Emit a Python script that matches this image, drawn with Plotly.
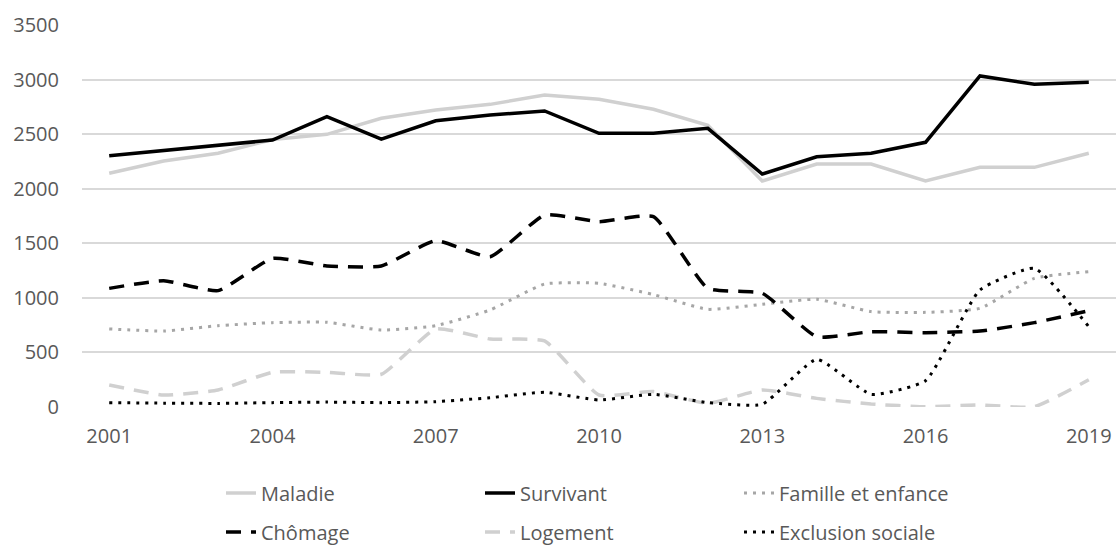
import plotly.graph_objects as go

years = list(range(2001, 2020))
maladie = [2141, 2254, 2325, 2450, 2498, 2645, 2721, 2773, 2859, 2819, 2728, 2581, 2071, 2226, 2226, 2071, 2196, 2196, 2325]
survivant = [2302, 2349, 2391, 2446, 2660, 2455, 2623, 2675, 2712, 2508, 2508, 2553, 2135, 2293, 2325, 2425, 3033, 2957, 2975]
famille = [715, 696, 745, 773, 776, 705, 745, 889, 1127, 1133, 1030, 895, 941, 987, 874, 867, 904, 1179, 1240]
chomage = [1087, 1157, 1066, 1362, 1292, 1292, 1524, 1377, 1759, 1698, 1744, 1087, 1042, 644, 690, 681, 696, 773, 882]
logement = [202, 110, 156, 318, 318, 300, 715, 623, 605, 110, 141, 34, 156, 79, 27, 3, 18, 3, 250]
exclusion = [40, 35, 33, 40, 45, 40, 49, 85, 135, 64, 116, 40, 25, 437, 116, 241, 1072, 1271, 736]

names = ["Maladie", "Survivant", "Famille et enfance", "Chômage", "Logement", "Exclusion sociale"]
x_ticks = [2001, 2004, 2007, 2010, 2013, 2016, 2019]

FONT = "Open Sans"
TXT = "#595959"

styles = [
    dict(color="#d0d0d0", width=3.5, dash="solid", shape="linear", legend="legend"),
    dict(color="#000000", width=3.5, dash="solid", shape="linear", legend="legend"),
    dict(color="#a6a6a6", width=3, dash="3px,6px", shape="spline", legend="legend"),
    dict(color="#000000", width=3.5, dash="15px,10px", shape="spline", legend="legend2"),
    dict(color="#d0d0d0", width=3.5, dash="15px,10px", shape="spline", legend="legend2"),
    dict(color="#000000", width=3, dash="3px,6px", shape="spline", legend="legend2"),
]
series = [maladie, survivant, famille, chomage, logement, exclusion]

fig = go.Figure()
for name, vals, st in zip(names, series, styles):
    fig.add_trace(go.Scatter(
        x=years, y=vals, name=name, mode="lines",
        line=dict(color=st["color"], width=st["width"], dash=st["dash"],
                  shape=st["shape"], smoothing=0.45),
        legend=st["legend"],
    ))

leg_common = dict(orientation="h", xanchor="left", yanchor="middle",
                  xref="container", yref="container",
                  font=dict(family=FONT, size=20, color=TXT),
                  entrywidth=214, entrywidthmode="pixels",
                  bgcolor="rgba(0,0,0,0)", itemclick=False, itemdoubleclick=False)

fig.update_layout(
    width=1116, height=547,
    margin=dict(l=82, r=0, t=25, b=140, autoexpand=False),
    paper_bgcolor="white", plot_bgcolor="white",
    font=dict(family=FONT, size=20, color=TXT),
    showlegend=True,
    legend=dict(x=221 / 1116, y=1 - 493 / 547, **leg_common),
    legend2=dict(x=221 / 1116, y=1 - 532 / 547, **leg_common),
    xaxis=dict(range=[2000.5, 2019.5], tickvals=x_ticks, ticktext=[str(v) for v in x_ticks],
               showgrid=False, zeroline=False, showline=False, ticks="",
               automargin=False, ticklabeloverflow="allow", ticklabelstandoff=15,
               tickfont=dict(family=FONT, size=20, color=TXT)),
    yaxis=dict(range=[0, 3500], dtick=500, tick0=0, showgrid=True, gridcolor="#d9d9d9",
               gridwidth=1.5, zeroline=False, showline=False, ticks="",
               automargin=False, ticklabelstandoff=22,
               tickfont=dict(family=FONT, size=20, color=TXT)),
)

fig.write_html(
    "out.html",
    config={"displayModeBar": False},
    post_script="document.body.style.margin='0';document.body.style.overflow='hidden';",
)
